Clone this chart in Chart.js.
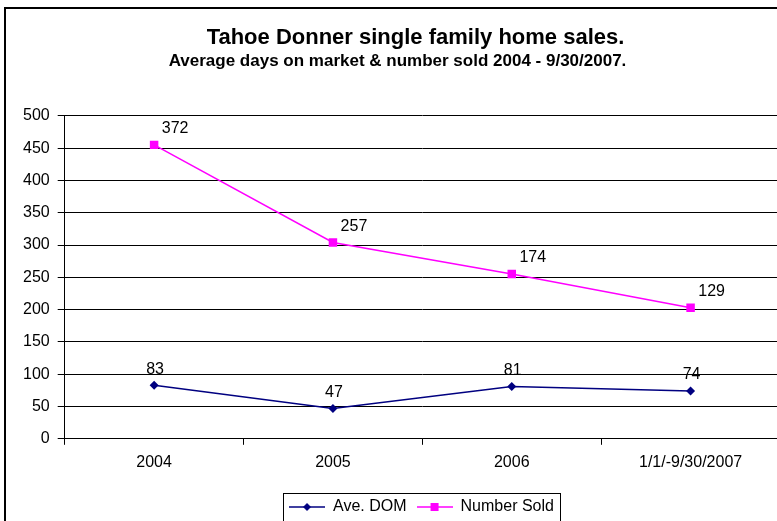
<!DOCTYPE html>
<html>
<head>
<meta charset="utf-8">
<script src="https://cdn.jsdelivr.net/npm/chart.js@4/dist/chart.umd.min.js"></script>
<style>
  html, body { margin: 0; padding: 0; background: #fff; overflow: hidden; }
  #wrap { position: relative; width: 777px; height: 521px; overflow: hidden; }
  #frame { position: absolute; left: 4px; top: 7px; width: 900px; height: 600px;
           border: 2px solid #000; pointer-events: none; }
  canvas { position: absolute; left: 0; top: 0; }
</style>
</head>
<body>
<div id="wrap">
  <canvas id="salesChart" width="830" height="540"></canvas>
  <div id="frame"></div>
</div>
<script>
//CHART DATA
const years = ["2004", "2005", "2006", "1/1/-9/30/2007"];
const aveDom = [83, 47, 81, 74];
const numberSold = [372, 257, 174, 129];
const yTicks = [0, 50, 100, 150, 200, 250, 300, 350, 400, 450, 500];

const FONT = "'Liberation Sans', Arial, sans-serif";
const NAVY = "#000080";
const PINK = "#FF00FF";

//LEGEND ICONS (line with marker in the middle)
const makeIcon = (color, shape) => {
	const c = document.createElement("canvas");
	c.width = 36;
	c.height = 12;
	const g = c.getContext("2d");
	g.strokeStyle = color;
	g.lineWidth = 1.5;
	g.beginPath();
	g.moveTo(0, 6);
	g.lineTo(36, 6);
	g.stroke();
	g.fillStyle = color;
	g.beginPath();
	if (shape === "diamond") {
		g.moveTo(18, 2);
		g.lineTo(22, 6);
		g.lineTo(18, 10);
		g.lineTo(14, 6);
		g.closePath();
	} else {
		g.rect(14, 2, 8, 8);
	}
	g.fill();
	return c;
};
const legendIcons = [makeIcon(NAVY, "diamond"), makeIcon(PINK, "square")];

//DATA LABELS ABOVE THE POINTS
const labelOffsets = [
	[1, -16],
	[21, -16],
];
const pointLabels = {
	id: "pointLabels",
	afterDatasetsDraw(chart) {
		const ctx = chart.ctx;
		ctx.save();
		ctx.font = "16px " + FONT;
		ctx.fillStyle = "#000";
		ctx.textAlign = "center";
		ctx.textBaseline = "middle";
		chart.data.datasets.forEach((ds, i) => {
			chart.getDatasetMeta(i).data.forEach((pt, j) => {
				ctx.fillText(ds.data[j], pt.x + labelOffsets[i][0], pt.y + labelOffsets[i][1]);
			});
		});
		ctx.restore();
	},
};

//SHIFT TITLE AND LEGEND TOWARDS THE FRAME CENTRE
const shiftBoxes = {
	id: "shiftBoxes",
	afterLayout(chart) {
		[
			[chart.titleBlock, 18],
			[chart.subtitleBlock ?? null, 4],
			[chart.legend, 24],
		].forEach(([box, dx]) => {
			if (!box) return;
			box.left += dx;
			box.right += dx;
		});
	},
};

//BORDER AROUND THE LEGEND
const legendFrame = {
	id: "legendFrame",
	afterDraw(chart) {
		const lg = chart.legend;
		if (!lg || !lg.legendHitBoxes.length) return;
		const boxes = lg.legendHitBoxes;
		const left = Math.min(...boxes.map((b) => b.left)) - 6;
		const right = Math.max(...boxes.map((b) => b.left + b.width)) + 6;
		const top = boxes[0].top - 6;
		const ctx = chart.ctx;
		ctx.save();
		ctx.strokeStyle = "#000";
		ctx.lineWidth = 1;
		ctx.strokeRect(Math.round(left) + 0.5, Math.round(top) + 0.5, Math.round(right - left), 100);
		ctx.restore();
	},
};

var salesChart = new Chart(document.getElementById("salesChart"), {
	type: "line",
	data: {
		labels: years,
		datasets: [
			{
				label: "Ave. DOM",
				data: aveDom,
				borderColor: NAVY,
				backgroundColor: NAVY,
				borderWidth: 1.5,
				pointStyle: "rectRot",
				pointRadius: 4.5,
				pointBorderWidth: 0,
				tension: 0,
			},
			{
				label: "Number Sold",
				data: numberSold,
				borderColor: PINK,
				backgroundColor: PINK,
				borderWidth: 1.5,
				pointStyle: "rect",
				pointRadius: 6,
				pointBorderWidth: 0,
				tension: 0,
			},
		],
	},
	options: {
		responsive: false,
		animation: false,
		devicePixelRatio: 1,
		layout: { padding: { left: 15, right: 50, top: 0, bottom: 15 } },
		scales: {
			x: {
				offset: true,
				grid: {
					offset: true,
					drawOnChartArea: false,
					drawTicks: true,
					tickLength: 6,
					color: "#000",
				},
				border: { display: true, color: "#000", width: 1 },
				ticks: { color: "#000", font: { family: FONT, size: 16 }, padding: 8 },
				afterFit: (axis) => {
					axis.height += 9;
				},
			},
			y: {
				stacked: true,
				min: 0,
				max: 500,
				afterBuildTicks: (axis) => {
					axis.ticks = yTicks.map((v) => ({ value: v }));
				},
				grid: { color: "#000", tickLength: 7, drawTicks: true },
				border: { display: true, color: "#000", width: 1 },
				ticks: { color: "#000", font: { family: FONT, size: 16 }, padding: 8 },
			},
		},
		plugins: {
			title: {
				display: true,
				text: "Tahoe Donner single family home sales.",
				color: "#000",
				font: { family: FONT, size: 22, weight: "bold" },
				padding: { top: 25, bottom: 0 },
			},
			subtitle: {
				display: true,
				text: "Average days on market & number sold 2004 - 9/30/2007.",
				color: "#000",
				font: { family: FONT, size: 17, weight: "bold" },
				padding: { top: 0, bottom: 44 },
			},
			legend: {
				position: "bottom",
				labels: {
					color: "#000",
					font: { family: FONT, size: 16 },
					usePointStyle: true,
					pointStyleWidth: 36,
					padding: 10,
					generateLabels: (chart) =>
						Chart.defaults.plugins.legend.labels
							.generateLabels(chart)
							.map((it, i) => ({ ...it, pointStyle: legendIcons[i] })),
				},
			},
			tooltip: { enabled: false },
		},
	},
	plugins: [shiftBoxes, pointLabels, legendFrame],
});
</script>
</body>
</html>
